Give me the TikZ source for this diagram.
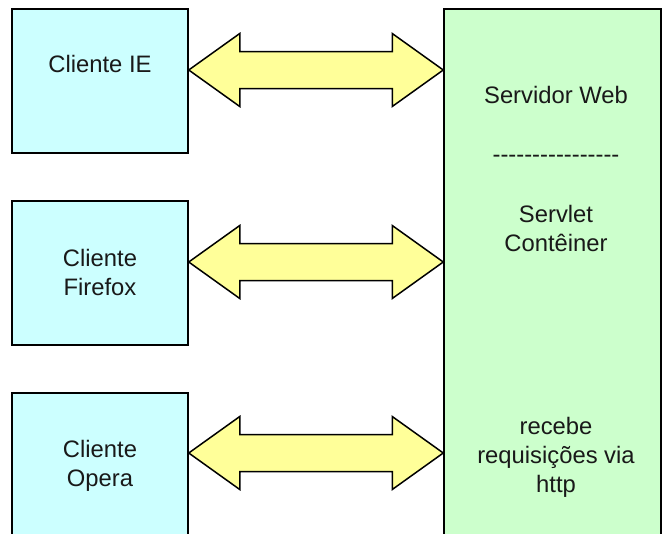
\documentclass[tikz,border=0pt]{standalone}
\usepackage{fontspec}
\setmainfont{Liberation Sans}
\newfontfamily\dashfont{Liberation Sans}[Ligatures=TeXOff]
\usetikzlibrary{calc}
\definecolor{clientfill}{HTML}{CCFFFF}
\definecolor{serverfill}{HTML}{CCFFCC}
\definecolor{arrowfill}{HTML}{FFFF99}
\tikzset{
  clientbox/.style={draw=black, line width=1.5pt, fill=clientfill, minimum width=176pt, minimum height=144pt, inner sep=0pt},
  serverbox/.style={draw=black, line width=1.5pt, fill=serverfill, minimum width=217pt, minimum height=540pt, inner sep=0pt},
  lbl/.style={font=\fontsize{23.8}{29.5}\selectfont, anchor=base, inner sep=0pt, text=black!90},
  dblarrow/.style={draw=black, line width=1.5pt, fill=arrowfill, line join=miter}
}
\newcommand\dblarr[2]{%
  \draw[dblarrow] (#1) -- ($(#1)+(51,-36.5)$) -- ($(#1)+(51,-18.5)$) -- ($(#2)+(-51,-18.5)$) -- ($(#2)+(-51,-36.5)$) -- (#2) -- ($(#2)+(-51,36.5)$) -- ($(#2)+(-51,18.5)$) -- ($(#1)+(51,18.5)$) -- ($(#1)+(51,36.5)$) -- cycle;}
\begin{document}
\begin{tikzpicture}[x=1pt,y=-1pt]
\useasboundingbox (0,0) rectangle (669,533);
\clip (0,0) rectangle (669,533);
% client boxes
\node[clientbox] (c1) at (100,81) {};
\node[clientbox] (c2) at (100,273) {};
\node[clientbox] (c3) at (100,465) {};
% server box
\node[serverbox] (srv) at (552.5,279) {};
% client labels
\node[lbl] (t1) at (100,72) {Cliente IE};
\node[lbl] (t2a) at (100,266) {Cliente};
\node[lbl] (t2b) at (100,295.5) {Firefox};
\node[lbl] (t3a) at (100,457) {Cliente};
\node[lbl] (t3b) at (100,486.5) {Opera};
% server labels
\node[lbl] (s1) at (556,103) {Servidor Web};
\node[lbl, font=\fontsize{23.8}{29.5}\dashfont] (s2) at (556,162) {----------------};
\node[lbl] (s3) at (556,222) {Servlet};
\node[lbl] (s4) at (556,251.5) {Contêiner};
\node[lbl] (s5) at (556,434) {recebe};
\node[lbl] (s6) at (556,463) {requisições via};
\node[lbl] (s7) at (556,492) {http};
% arrow endpoints
\coordinate (a1l) at (c1.east |- 0,70);
\coordinate (a1r) at (srv.west |- 0,70);
\coordinate (a2l) at (c2.east |- 0,262);
\coordinate (a2r) at (srv.west |- 0,262);
\coordinate (a3l) at (c3.east |- 0,453);
\coordinate (a3r) at (srv.west |- 0,453);
\dblarr{a1l}{a1r}
\dblarr{a2l}{a2r}
\dblarr{a3l}{a3r}
\end{tikzpicture}
\end{document}
